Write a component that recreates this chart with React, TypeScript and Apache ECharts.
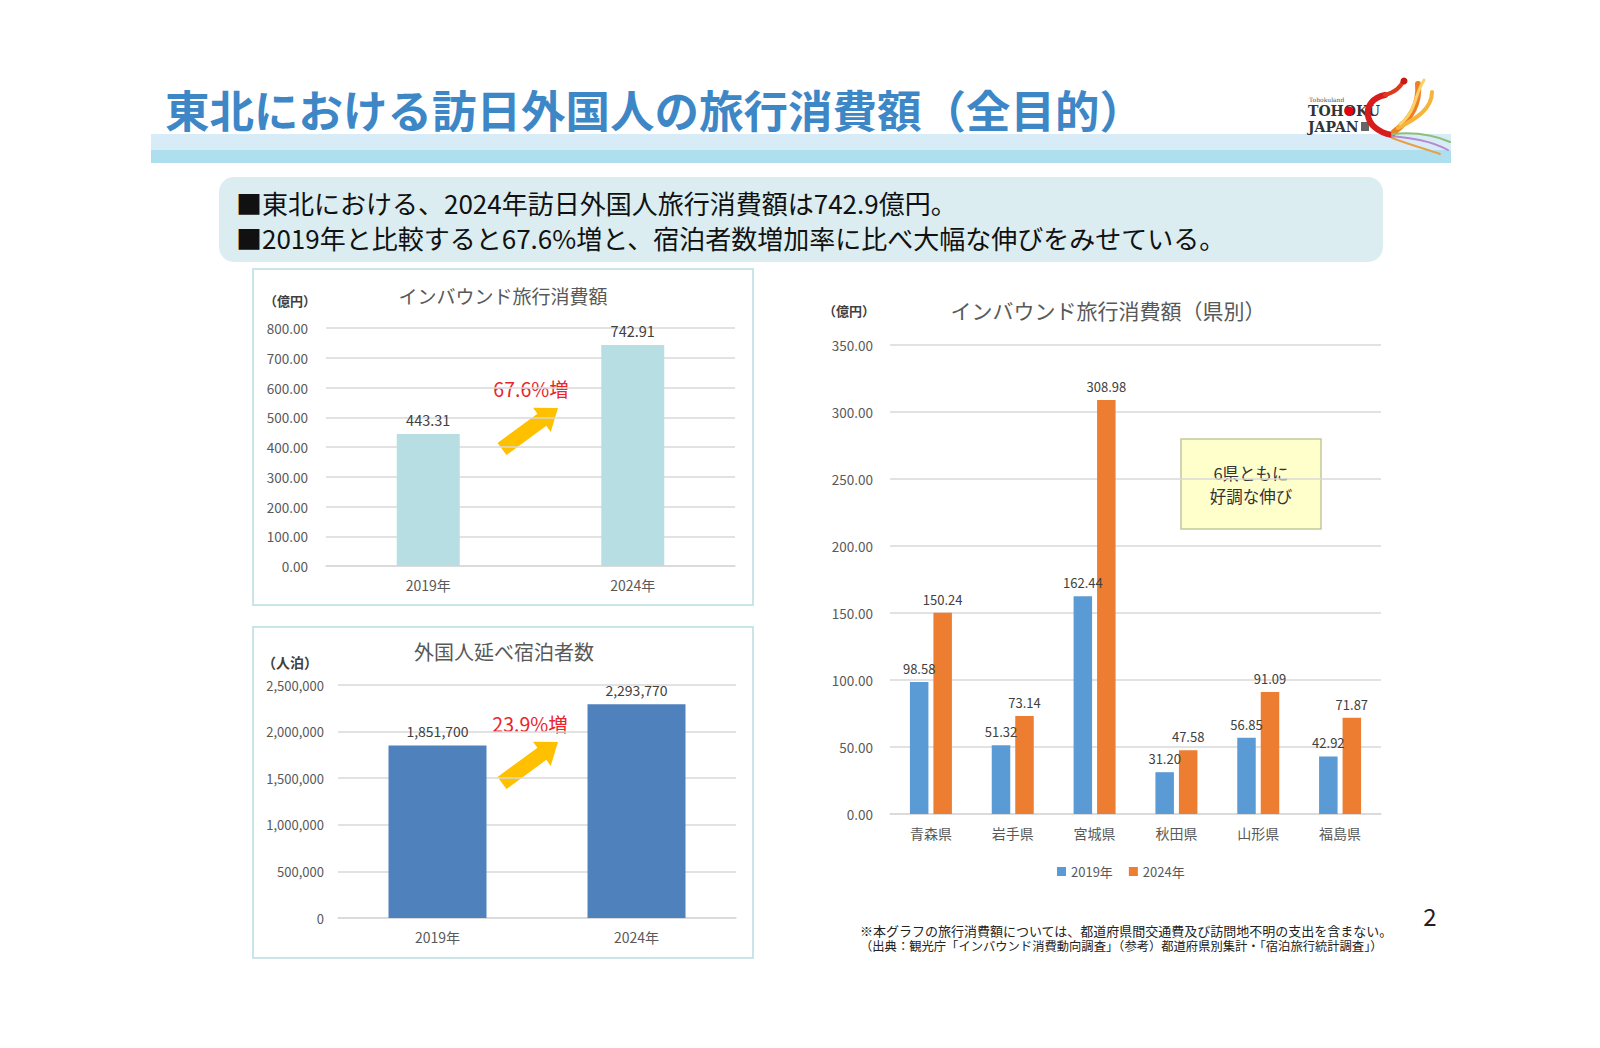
import React, { useEffect, useRef } from "react";
import * as echarts from "echarts";

const years = ["2019年", "2024年"];
const spending = [443.31, 742.91];
const stays = [1851700, 2293770];
const prefectures = ["青森県", "岩手県", "宮城県", "秋田県", "山形県", "福島県"];
const pref2019 = [98.58, 51.32, 162.44, 31.2, 56.85, 42.92];
const pref2024 = [150.24, 73.14, 308.98, 47.58, 91.09, 71.87];

const JP = "'Noto Sans CJK JP', 'Noto Sans', sans-serif";
const AXIS_GRAY = "#595959";
const LABEL_GRAY = "#404040";
const GRID_LINE = "#d9d9d9";

function arrowPts(x1: number, y1: number, x2: number, y2: number, sw: number, hw: number, hl: number) {
  const dx = x2 - x1, dy = y2 - y1;
  const L = Math.hypot(dx, dy);
  const ux = dx / L, uy = dy / L;
  const px = -uy, py = ux;
  const bx = x2 - ux * hl, by = y2 - uy * hl;
  return [
    [x1 + px * sw, y1 + py * sw],
    [bx + px * sw, by + py * sw],
    [bx + px * hw, by + py * hw],
    [x2, y2],
    [bx - px * hw, by - py * hw],
    [bx - px * sw, by - py * sw],
    [x1 - px * sw, y1 - py * sw],
  ];
}

function txt(x: number, y: number, text: string, size: number, fill: string, extra: any = {}) {
  return {
    type: "text",
    x,
    y,
    silent: true,
    style: {
      text,
      fill,
      fontSize: size,
      fontFamily: JP,
      lineHeight: Math.round(size * 1.05),
      textAlign: "left",
      textVerticalAlign: "middle",
      ...extra,
    },
  };
}

function curve(x1: number, y1: number, c1x: number, c1y: number, c2x: number, c2y: number, x2: number, y2: number, stroke: string, lineWidth: number) {
  return {
    type: "bezierCurve",
    silent: true,
    shape: { x1, y1, cpx1: c1x, cpy1: c1y, cpx2: c2x, cpy2: c2y, x2, y2 },
    style: { stroke, lineWidth, fill: "none", lineCap: "round" },
  };
}

export default function App() {
  const ref = useRef<HTMLDivElement>(null);
  useEffect(() => {
    if (!ref.current) return;
    const chart = echarts.init(ref.current, undefined, { renderer: "svg" });

    const fmt2 = (v: number) => v.toFixed(2);
    const fmtComma = (v: number) => Math.round(v).toLocaleString("en-US");

    const catAxisBase = (gridIndex: number, data: string[]) => ({
      type: "category",
      gridIndex,
      data,
      axisTick: { show: false },
      axisLine: { lineStyle: { color: GRID_LINE, width: 1.5 } },
      axisLabel: { color: AXIS_GRAY, fontSize: 14, fontFamily: JP, margin: 12 },
    });

    const valAxisBase = (gridIndex: number, max: number, interval: number, formatter: any, margin: number, size: number) => ({
      type: "value",
      gridIndex,
      min: 0,
      max,
      interval,
      axisLine: { show: false },
      axisTick: { show: false },
      splitLine: { lineStyle: { color: GRID_LINE, width: 1.5 } },
      axisLabel: { color: AXIS_GRAY, fontSize: size, fontFamily: JP, margin, formatter },
    });

    const labelStyle = (size: number, formatter: any) => ({
      show: true,
      position: "top",
      distance: 7,
      color: LABEL_GRAY,
      fontSize: size,
      fontFamily: JP,
      formatter: (p: any) => formatter(p.value),
    });

    const arrow1 = arrowPts(502, 449, 558, 408, 7.5, 15, 20);
    const arrow2 = arrowPts(502, 783, 558, 742, 7.5, 15, 20);

    const option: any = {
      animation: false,
      backgroundColor: "#ffffff",
      grid: [
        { left: 326, top: 328, width: 409, height: 238 },
        { left: 338, top: 685, width: 398, height: 233 },
        { left: 890, top: 345, width: 491, height: 469 },
      ],
      xAxis: [
        catAxisBase(0, years),
        catAxisBase(1, years),
        catAxisBase(2, prefectures),
      ],
      yAxis: [
        valAxisBase(0, 800, 100, fmt2, 18, 13.5),
        valAxisBase(1, 2500000, 500000, fmtComma, 14, 13),
        valAxisBase(2, 350, 50, fmt2, 17, 13.5),
      ],
      legend: {
        data: ["2019年", "2024年"],
        left: 1052,
        top: 860,
        itemWidth: 9,
        itemHeight: 9,
        itemGap: 16,
        icon: "rect",
        textStyle: { color: AXIS_GRAY, fontSize: 13, fontFamily: JP },
      },
      series: [
        {
          name: "消費額",
          type: "bar",
          xAxisIndex: 0,
          yAxisIndex: 0,
          data: spending,
          barWidth: 63,
          itemStyle: { color: "#b7dee2" },
          label: labelStyle(14.5, fmt2),
        },
        {
          name: "宿泊者数",
          type: "bar",
          xAxisIndex: 1,
          yAxisIndex: 1,
          data: stays,
          barWidth: 98,
          itemStyle: { color: "#4f81bd" },
          label: labelStyle(14, fmtComma),
        },
        {
          name: "2019年",
          type: "bar",
          xAxisIndex: 2,
          yAxisIndex: 2,
          data: pref2019,
          barWidth: 18.5,
          barGap: "27%",
          itemStyle: { color: "#5b9bd5" },
          label: labelStyle(13, fmt2),
        },
        {
          name: "2024年",
          type: "bar",
          xAxisIndex: 2,
          yAxisIndex: 2,
          data: pref2024,
          barWidth: 18.5,
          barGap: "27%",
          itemStyle: { color: "#ed7d31" },
          label: labelStyle(13, fmt2),
        },
      ],
      graphic: [
        // header banner
        { type: "rect", silent: true, shape: { x: 151, y: 134, width: 1300, height: 16 }, style: { fill: "#d8ecf8" } },
        { type: "rect", silent: true, shape: { x: 151, y: 150, width: 1300, height: 13 }, style: { fill: "#aedfee" } },
        txt(165, 108, "東北における訪日外国人の旅行消費額（全目的）", 44.5, "#3d87c7", { fontWeight: "bold" }),
        // logo
        txt(1309, 99, "Tohokuland", 6, "#555555", { fontFamily: "'DejaVu Serif', serif" }),
        txt(1308, 111, "TOHOKU", 14, "#333333", { fontWeight: "bold", fontFamily: "'DejaVu Serif', serif", letterSpacing: 1 }),
        { type: "circle", silent: true, shape: { cx: 1349, cy: 111, r: 4.5 }, style: { fill: "#e60012" } },
        txt(1308, 127, "JAPAN", 14, "#333333", { fontWeight: "bold", fontFamily: "'DejaVu Serif', serif", letterSpacing: 1 }),
        { type: "rect", silent: true, shape: { x: 1361, y: 122, width: 8, height: 9 }, style: { fill: "#666666" } },
        curve(1392, 135, 1362, 130, 1360, 100, 1385, 95, "#d71c1c", 6),
        curve(1385, 95, 1395, 92, 1400, 88, 1404, 80, "#e03a1e", 4),
        curve(1394, 132, 1410, 120, 1420, 105, 1418, 84, "#f07f22", 6),
        curve(1398, 128, 1418, 118, 1432, 108, 1432, 92, "#f6b53a", 4),
        curve(1400, 124, 1416, 112, 1414, 96, 1424, 80, "#f9d26a", 3),
        curve(1392, 136, 1410, 138, 1430, 140, 1448, 150, "#b58ad0", 2),
        curve(1392, 134, 1412, 132, 1432, 134, 1450, 142, "#8cc07a", 2),
        curve(1392, 138, 1408, 144, 1422, 148, 1440, 154, "#e7a04a", 2),
        { type: "circle", silent: true, shape: { cx: 1404, cy: 81, r: 3.5 }, style: { fill: "#c81a14" } },
        // summary box
        { type: "rect", silent: true, shape: { x: 219, y: 177, width: 1164, height: 85, r: 15 }, style: { fill: "#dbedf0" } },
        txt(236, 202, "■東北における、2024年訪日外国人旅行消費額は742.9億円。", 26, "#111111", { lineHeight: 27, letterSpacing: 0.8 }),
        txt(236, 237.5, "■2019年と比較すると67.6%増と、宿泊者数増加率に比べ大幅な伸びをみせている。", 26, "#111111", { lineHeight: 27, letterSpacing: 0.8 }),
        // left chart boxes
        { type: "rect", silent: true, shape: { x: 253, y: 269, width: 500, height: 336 }, style: { fill: "none", stroke: "#cae4ea", lineWidth: 2 } },
        { type: "rect", silent: true, shape: { x: 253, y: 627, width: 500, height: 331 }, style: { fill: "none", stroke: "#cae4ea", lineWidth: 2 } },
        txt(290, 300, "（億円）", 13, "#404040", { fontWeight: "bold", textAlign: "center" }),
        txt(503, 295, "インバウンド旅行消費額", 19, AXIS_GRAY, { textAlign: "center" }),
        txt(290, 662, "（人泊）", 14, "#404040", { fontWeight: "bold", textAlign: "center" }),
        txt(504, 651, "外国人延べ宿泊者数", 20, AXIS_GRAY, { textAlign: "center" }),
        { type: "polygon", silent: true, shape: { points: arrow1 }, style: { fill: "#ffc000" } },
        { type: "polygon", silent: true, shape: { points: arrow2 }, style: { fill: "#ffc000" } },
        txt(531, 388, "67.6%増", 19.5, "#e8262b", { textAlign: "center" }),
        txt(530, 723, "23.9%増", 19.5, "#e8262b", { textAlign: "center" }),
        // right chart decorations
        txt(849, 310, "（億円）", 13, "#404040", { fontWeight: "bold", textAlign: "center" }),
        txt(1108, 310, "インバウンド旅行消費額（県別）", 21, AXIS_GRAY, { textAlign: "center" }),
        { type: "rect", silent: true, shape: { x: 1181, y: 439, width: 140, height: 90 }, style: { fill: "#ffffcc", stroke: "#c2c89a", lineWidth: 1.5 } },
        txt(1251, 473, "6県ともに", 16.5, "#333333", { textAlign: "center", lineHeight: 17 }),
        txt(1251, 495.5, "好調な伸び", 16.5, "#333333", { textAlign: "center", lineHeight: 17 }),
        // footnote
        txt(860, 930, "※本グラフの旅行消費額については、都道府県間交通費及び訪問地不明の支出を含まない。", 13, "#222222"),
        txt(860, 946, "（出典：観光庁「インバウンド消費動向調査」（参考）都道府県別集計・「宿泊旅行統計調査」）", 12.3, "#222222"),
        txt(1430, 915, "2", 24, "#222222", { textAlign: "center" }),
      ],
    };

    chart.setOption(option);
    return () => chart.dispose();
  }, []);

  return (
    <div
      ref={ref}
      style={{ position: "fixed", left: 0, top: 0, width: 1600, height: 1048, background: "#ffffff" }}
    />
  );
}
